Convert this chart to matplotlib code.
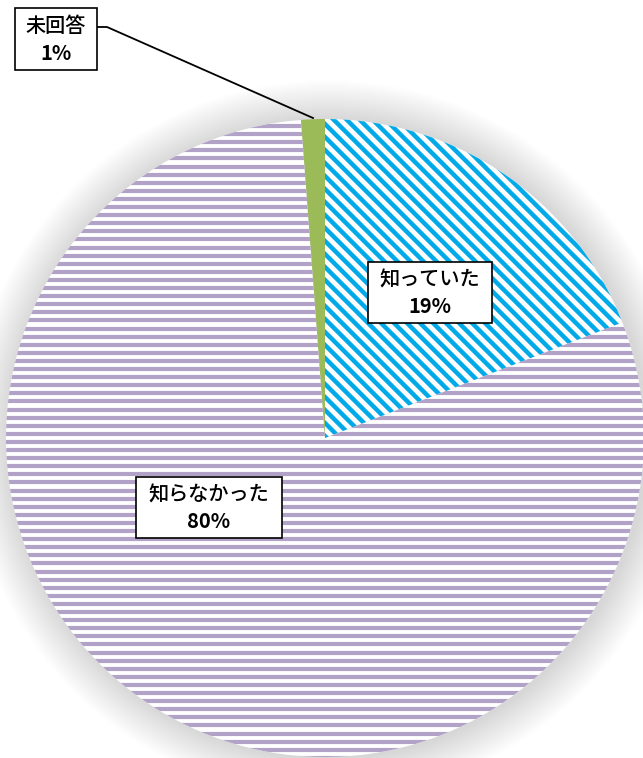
import numpy as np
import matplotlib
matplotlib.use("Agg")
import matplotlib.pyplot as plt
from matplotlib.patches import Rectangle, Circle
from matplotlib.collections import LineCollection

plt.rcParams['font.family'] = ['Noto Sans CJK JP', 'DejaVu Sans']

categories = ['知っていた', '知らなかった', '未回答']
values = [19.1, 79.7, 1.2]
pct_labels = ['19%', '80%', '1%']
colors = ['#00A9E8', '#B3A2C7', '#9BBB59']

W, H = 643, 758
fig = plt.figure(figsize=(W / 100, H / 100), dpi=100)
ax = fig.add_axes([0, 0, 1, 1])

cx, cy, R = 325, 438, 319

# soft shadow / glow around the pie
for i in range(40, 0, -1):
    ax.add_patch(Circle((cx + 3, cy + 1), R + i, facecolor='#000000',
                        alpha=0.0045, edgecolor='none', zorder=0))

# with inverted y, counterclock=True appears clockwise on screen; start at top
wedges, _ = ax.pie(values, startangle=-90, counterclock=True,
                   center=(cx, cy), radius=R, frame=True,
                   wedgeprops=dict(edgecolor='none', linewidth=0))
ax.set_xlim(0, W)
ax.set_ylim(H, 0)
ax.axis('off')

wedges[0].set_facecolor('white')
wedges[1].set_facecolor('white')
wedges[2].set_facecolor(colors[2])
for w in wedges:
    w.set_zorder(1)

# blue diagonal stripes
segs = []
period = 13
for c in np.arange(-800, 1400, period):
    segs.append([(c, 0), (c + 800, 800)])
lc = LineCollection(segs, colors=colors[0], linewidths=3.2, zorder=2)
ax.add_collection(lc)
lc.set_clip_path(wedges[0])

# purple horizontal stripes
segs = []
for y in np.arange(118, 760, 8.1):
    segs.append([(0, y), (W, y)])
lc2 = LineCollection(segs, colors=colors[1], linewidths=3.0, zorder=2)
ax.add_collection(lc2)
lc2.set_clip_path(wedges[1])

# labels
boxes = [
    (368, 262, 124, 61),
    (136, 477, 146, 61),
    (15, 8, 82, 62),
]
for (bx, by, bw, bh), cat, pl in zip(boxes, categories, pct_labels):
    ax.add_patch(Rectangle((bx, by), bw, bh, facecolor='white',
                           edgecolor='black', linewidth=1.2, zorder=5))
    ax.text(bx + bw / 2, by + bh / 2 - 13, cat, ha='center',
            va='center', fontsize=14.5, fontweight='medium', zorder=6)
    ax.text(bx + bw / 2, by + bh / 2 + 14, pl, ha='center',
            va='center', fontsize=14.5, fontweight='bold', zorder=6)

# leader line for 未回答
ax.plot([97, 107, 313], [27, 27, 118], color='black', linewidth=1.3, zorder=4)

fig.savefig('out.png', dpi=100)
